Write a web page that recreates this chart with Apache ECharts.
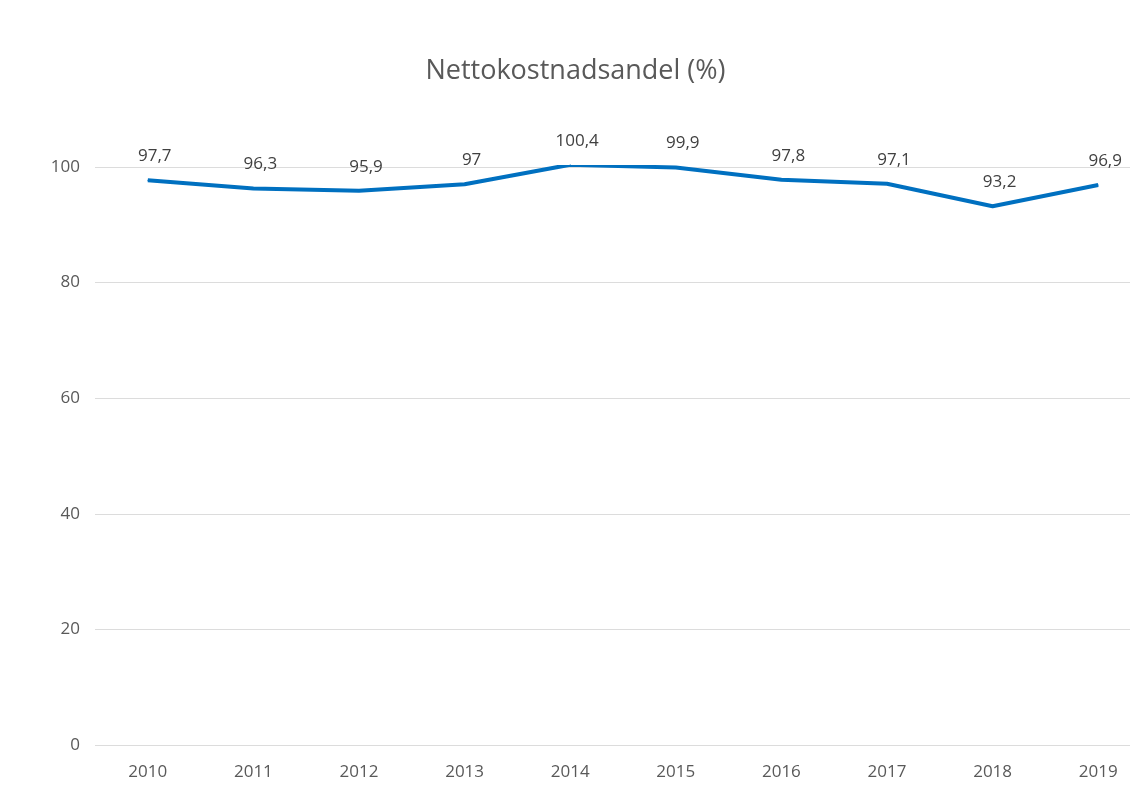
<!DOCTYPE html>
<html>
<head>
<meta charset="utf-8">
<script src="https://cdn.jsdelivr.net/npm/echarts@6/dist/echarts.min.js"></script>
<style>
  html, body { margin: 0; padding: 0; background: #fff; overflow: hidden; }
  /* plot area runs past the right edge of the window, like the source picture */
  #chart { width: 1151px; height: 785px; }
</style>
</head>
<body>
<div id="chart"></div>
<script>
// data
const years = ['2010', '2011', '2012', '2013', '2014', '2015', '2016', '2017', '2018', '2019']
const nettokostnadsandel = [97.7, 96.3, 95.9, 97, 100.4, 99.9, 97.8, 97.1, 93.2, 96.9]

let myChart = echarts.init(document.getElementById('chart'))
myChart.setOption({
  textStyle: { fontFamily: 'Open Sans, sans-serif' },
  title: {
    text: 'Nettokostnadsandel (%)',
    left: 'center',
    top: 53,
    textStyle: { color: '#595959', fontSize: 27, fontWeight: 'normal' }
  },
  grid: {
    top: 167,
    bottom: 40,
    left: 95,
    right: 0
  },
  xAxis: {
    type: 'category',
    data: years,
    boundaryGap: true,
    axisLine: { show: false },
    axisTick: { show: false },
    axisLabel: { color: '#595959', fontSize: 17, margin: 19 }
  },
  yAxis: {
    type: 'value',
    min: 0,
    max: 100,
    interval: 20,
    axisLabel: { color: '#595959', fontSize: 17, margin: 15 },
    splitLine: { lineStyle: { color: '#dcdcdc', width: 1 } }
  },
  series: [
    {
      type: 'line',
      data: nettokostnadsandel,
      clip: false,
      symbol: 'circle',
      symbolSize: 1,
      showSymbol: true,
      itemStyle: { color: '#0070c0' },
      lineStyle: { color: '#0070c0', width: 4 },
      label: {
        show: true,
        position: 'top',
        distance: 15,
        offset: [7, 0],
        color: '#404040',
        fontSize: 17,
        formatter: p => String(p.value).replace('.', ',')
      }
    }
  ]
})
</script>
</body>
</html>
